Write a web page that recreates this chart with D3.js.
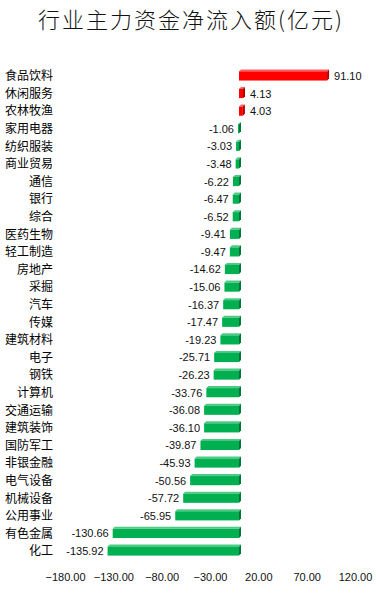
<!DOCTYPE html>
<html>
<head>
<meta charset="utf-8">
<script src="https://cdn.jsdelivr.net/npm/d3@7"></script>
<style>
  body { margin: 0; background: #fff; }
  svg { display: block; }
</style>
</head>
<body>
<svg id="chart" width="376" height="594"></svg>
<script>
// === Data ===
const industries = ["食品饮料", "休闲服务", "农林牧渔", "家用电器", "纺织服装", "商业贸易", "通信", "银行", "综合",
  "医药生物", "轻工制造", "房地产", "采掘", "汽车", "传媒", "建筑材料", "电子", "钢铁", "计算机", "交通运输",
  "建筑装饰", "国防军工", "非银金融", "电气设备", "机械设备", "公用事业", "有色金属", "化工"];
const netInflow = [91.10, 4.13, 4.03, -1.06, -3.03, -3.48, -6.22, -6.47, -6.52, -9.41, -9.47, -14.62, -15.06,
  -16.37, -17.47, -19.23, -25.71, -26.23, -33.76, -36.08, -36.10, -39.87, -45.93, -50.56, -57.72, -65.95,
  -130.66, -135.92];
const xTicks = [-180, -130, -80, -30, 20, 70, 120];

const svg = d3.select("#chart");
const width = +svg.attr("width");

const data = industries.map((name, i) => ({ name, value: netInflow[i] }));

const x = d3.scaleLinear().domain([-180, 120]).range([65, 355]);
const y = d3.scaleBand().domain(industries).range([67, 560]).paddingInner(0.48).paddingOuter(0.25);

// === Title ===
svg.append("text")
  .attr("x", width / 2 + 3)
  .attr("y", 28)
  .attr("text-anchor", "middle")
  .attr("font-family", "'Noto Sans CJK SC', sans-serif")
  .attr("font-size", "22px")
  .attr("font-weight", 300)
  .attr("letter-spacing", "2px")
  .attr("fill", "#111")
  .text("行业主力资金净流入额(亿元)");

// === Category labels ===
svg.selectAll(".cat")
  .data(data)
  .enter()
  .append("text")
  .attr("class", "cat")
  .attr("x", 53)
  .attr("y", d => y(d.name) + y.bandwidth() / 2)
  .attr("dy", "0.36em")
  .attr("text-anchor", "end")
  .attr("font-family", "'Noto Sans CJK SC', sans-serif")
  .attr("font-size", "12px")
  .attr("fill", "#000")
  .text(d => d.name);

// === Bars with a little 3D look ===
const depth = 2;
const bars = svg.append("g");
data.forEach(d => {
  const x0 = x(Math.min(0, d.value));
  const x1 = x(Math.max(0, d.value));
  const yt = y(d.name);
  const h = y.bandwidth();
  const main = d.value >= 0 ? "#ff0000" : "#00b050";
  const dark = d.value >= 0 ? "#b00000" : "#00763a";
  const light = d.value >= 0 ? "#ff6060" : "#4ccb84";
  // top face
  bars.append("path")
    .attr("d", `M${x0},${yt} L${x0 + depth},${yt - depth} L${x1 + depth},${yt - depth} L${x1},${yt} Z`)
    .attr("fill", light);
  // side face
  bars.append("path")
    .attr("d", `M${x1},${yt} L${x1 + depth},${yt - depth} L${x1 + depth},${yt + h - depth} L${x1},${yt + h} Z`)
    .attr("fill", dark);
  // front
  bars.append("rect")
    .attr("x", x0)
    .attr("y", yt)
    .attr("width", Math.max(0.5, x1 - x0))
    .attr("height", h)
    .attr("fill", main);
});

// === Value labels ===
svg.selectAll(".val")
  .data(data)
  .enter()
  .append("text")
  .attr("class", "val")
  .attr("x", d => d.value >= 0 ? x(d.value) + depth + 5 : x(d.value) - 4)
  .attr("y", d => y(d.name) + y.bandwidth() / 2)
  .attr("dy", "0.36em")
  .attr("text-anchor", d => d.value >= 0 ? "start" : "end")
  .attr("font-family", "'Liberation Sans', Arial, sans-serif")
  .attr("font-size", "11px")
  .attr("fill", "#111")
  .text(d => d.value.toFixed(2));

// === X axis (labels only) ===
const xAxis = svg.append("g")
  .attr("transform", "translate(0, 570)")
  .call(d3.axisBottom(x).tickValues(xTicks).tickFormat(d3.format(".2f")).tickSize(0));
xAxis.select(".domain").remove();
xAxis.selectAll("text")
  .attr("font-family", "'Liberation Sans', Arial, sans-serif")
  .attr("font-size", "11px")
  .attr("fill", "#111");
</script>
</body>
</html>
